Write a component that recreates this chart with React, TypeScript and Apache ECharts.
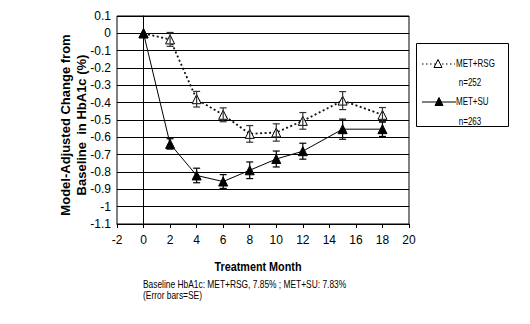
import React, { useEffect, useRef } from "react";
import * as echarts from "echarts";

const months = [0, 2, 4, 6, 8, 10, 12, 15, 18];
const rsgValues = [0, -0.035, -0.38, -0.47, -0.58, -0.572, -0.505, -0.388, -0.47];
const rsgSE = [0, 0.04, 0.045, 0.04, 0.048, 0.05, 0.048, 0.052, 0.042];
const suValues = [0, -0.638, -0.82, -0.855, -0.79, -0.725, -0.68, -0.553, -0.553];
const suSE = [0, 0.03, 0.042, 0.04, 0.048, 0.046, 0.046, 0.058, 0.042];
const seriesNames = ["MET+RSG", "MET+SU"];
const seriesN = ["n=252", "n=263"];
const xTitle = "Treatment Month";
const yTitle = ["Model-Adjusted Change from", "Baseline  in HbA1c (%)"];
const footnote = ["Baseline HbA1c: MET+RSG, 7.85% ; MET+SU: 7.83%", "(Error bars=SE)"];

const FONT = "'Liberation Sans', Arial, sans-serif";

function errData(vals: number[], se: number[]) {
  return months
    .map((m, i) => [m, vals[i] - se[i], vals[i] + se[i]])
    .filter((_, i) => se[i] > 0);
}

function errRender(color: string) {
  return (params: any, api: any) => {
    const lo = api.coord([api.value(0), api.value(1)]);
    const hi = api.coord([api.value(0), api.value(2)]);
    const w = 3.5;
    const st = { stroke: color, lineWidth: 1.2 };
    return {
      type: "group",
      children: [
        { type: "line", shape: { x1: lo[0], y1: lo[1], x2: hi[0], y2: hi[1] }, style: st },
        { type: "line", shape: { x1: lo[0] - w, y1: lo[1], x2: lo[0] + w, y2: lo[1] }, style: st },
        { type: "line", shape: { x1: hi[0] - w, y1: hi[1], x2: hi[0] + w, y2: hi[1] }, style: st },
      ],
    };
  };
}

export default function App() {
  const ref = useRef<HTMLDivElement>(null);
  useEffect(() => {
    if (!ref.current) return;
    const chart = echarts.init(ref.current, undefined, { renderer: "svg" });
    const lx = 416, ly = 43;
    const small = (text: string, x: number, y: number, align = "left") => ({
      type: "text", x, y, scaleX: 0.8,
      style: { text, fontSize: 10, fontFamily: FONT, fill: "#000", textAlign: align, textVerticalAlign: "middle" },
    });
    chart.setOption({
      animation: false,
      backgroundColor: "#fff",
      grid: {
        left: 117, right: 121, top: 16, bottom: 100,
        show: true, borderColor: "#000", borderWidth: 1, backgroundColor: "transparent",
      },
      xAxis: {
        type: "value", min: -2, max: 20, interval: 2,
        axisLine: { onZero: false, lineStyle: { color: "#000", width: 1 } },
        axisTick: { show: true, length: 4, lineStyle: { color: "#000" } },
        axisLabel: { color: "#000", fontSize: 12, fontFamily: FONT, margin: 10 },
        splitLine: { show: false },
      },
      yAxis: {
        type: "value", min: -1.1, max: 0.1, interval: 0.1,
        axisLine: { show: true, lineStyle: { color: "#000", width: 1 } },
        axisTick: { show: true, length: 3, lineStyle: { color: "#000" } },
        axisLabel: {
          color: "#000", fontSize: 12, fontFamily: FONT, margin: 6,
          formatter: (v: number) => String(Number(v.toFixed(1))),
        },
        splitLine: { show: true, lineStyle: { color: "#000", width: 1 } },
      },
      series: [
        {
          name: seriesNames[0], type: "line",
          data: months.map((m, i) => [m, rsgValues[i]]),
          symbol: "triangle", symbolSize: 9,
          itemStyle: { color: "#fff", borderColor: "#000", borderWidth: 1 },
          lineStyle: { color: "#111", width: 1.8, type: [2, 2.5] },
          z: 3,
        },
        {
          name: seriesNames[1], type: "line",
          data: months.map((m, i) => [m, suValues[i]]),
          symbol: "triangle", symbolSize: 9,
          itemStyle: { color: "#000", borderColor: "#000", borderWidth: 1 },
          lineStyle: { color: "#000", width: 1 },
          z: 3,
        },
        {
          type: "custom", renderItem: errRender("#333"),
          data: errData(rsgValues, rsgSE), encode: { x: 0, y: [1, 2] }, z: 4,
        },
        {
          type: "custom", renderItem: errRender("#000"),
          data: errData(suValues, suSE), encode: { x: 0, y: [1, 2] }, z: 4,
        },
      ],
      graphic: [
        {
          type: "text", x: 65, y: 125, rotation: Math.PI / 2,
          style: { text: yTitle[0], fontSize: 13, fontWeight: "bold", fontFamily: FONT, fill: "#000", textAlign: "center", textVerticalAlign: "middle" },
        },
        {
          type: "text", x: 81, y: 125, rotation: Math.PI / 2,
          style: { text: yTitle[1], fontSize: 13, fontWeight: "bold", fontFamily: FONT, fill: "#000", textAlign: "center", textVerticalAlign: "middle" },
        },
        {
          type: "text", x: 258, y: 267, scaleX: 0.9,
          style: { text: xTitle, fontSize: 12, fontWeight: "bold", fontFamily: FONT, fill: "#000", textAlign: "center", textVerticalAlign: "middle" },
        },
        {
          type: "rect", shape: { x: lx + 0.5, y: ly + 0.5, width: 92, height: 83 },
          style: { fill: "#fff", stroke: "#000", lineWidth: 1 },
        },
        {
          type: "line", shape: { x1: lx + 6, y1: ly + 21, x2: lx + 39, y2: ly + 21 },
          style: { stroke: "#000", lineWidth: 1.2, lineDash: [1.5, 2.5] },
        },
        {
          type: "polygon", shape: { points: [[lx + 22, ly + 16.5], [lx + 18, ly + 24.5], [lx + 26, ly + 24.5]] },
          style: { fill: "#fff", stroke: "#000", lineWidth: 1 },
        },
        small(seriesNames[0], lx + 40, ly + 21),
        small(seriesN[0], lx + 54, ly + 40, "center"),
        {
          type: "line", shape: { x1: lx + 6, y1: ly + 59, x2: lx + 40, y2: ly + 59 },
          style: { stroke: "#000", lineWidth: 1 },
        },
        {
          type: "polygon", shape: { points: [[lx + 23, ly + 54.5], [lx + 19, ly + 62.5], [lx + 27, ly + 62.5]] },
          style: { fill: "#000", stroke: "#000", lineWidth: 1 },
        },
        small(seriesNames[1], lx + 40, ly + 59),
        small(seriesN[1], lx + 54, ly + 79, "center"),
        {
          type: "text", x: 143, y: 285, scaleX: 0.84,
          style: { text: footnote[0], fontSize: 10, fontFamily: FONT, fill: "#000", textVerticalAlign: "middle" },
        },
        {
          type: "text", x: 143, y: 295.5, scaleX: 0.84,
          style: { text: footnote[1], fontSize: 10, fontFamily: FONT, fill: "#000", textVerticalAlign: "middle" },
        },
      ],
    });
    return () => chart.dispose();
  }, []);
  return <div ref={ref} style={{ width: 530, height: 324, position: "absolute", left: 0, top: 0 }} />;
}
